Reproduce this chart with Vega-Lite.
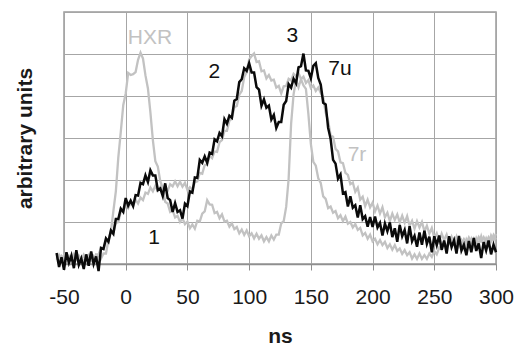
{
  "$schema": "https://vega.github.io/schema/vega-lite/v6.json",
  "width": 432,
  "height": 252,
  "autosize": {"type": "none"},
  "padding": {"left": 64, "top": 12, "right": 19, "bottom": 83},
  "background": "white",
  "config": {"view": {"stroke": "#9a9a9a", "strokeWidth": 1.5}, "font": "Liberation Sans"},
  "datasets": {
    "sig": [
      {"t":-56,"hxr":0.10,"r7":0.16,"u7":0.26},{"t":-54,"hxr":0.22,"r7":0.06,"u7":-0.07},{"t":-52,"hxr":0.12,"r7":0.18,"u7":0.16},{"t":-50,"hxr":0.21,"r7":0.04,"u7":-0.14},
      {"t":-48,"hxr":0.08,"r7":0.13,"u7":0.28},{"t":-46,"hxr":0.19,"r7":0.02,"u7":0.03},{"t":-44,"hxr":0.09,"r7":0.15,"u7":0.2},{"t":-42,"hxr":0.23,"r7":0.07,"u7":-0.1},
      {"t":-40,"hxr":0.11,"r7":0.17,"u7":0.33},{"t":-38,"hxr":0.2,"r7":0.05,"u7":-0.02},{"t":-36,"hxr":0.1,"r7":0.16,"u7":0.13},{"t":-34,"hxr":0.22,"r7":0.06,"u7":-0.12},
      {"t":-32,"hxr":0.12,"r7":0.18,"u7":0.23},{"t":-30,"hxr":0.21,"r7":0.04,"u7":-0.04},{"t":-28,"hxr":0.08,"r7":0.13,"u7":0.3},{"t":-26,"hxr":0.19,"r7":0.02,"u7":0.0},
      {"t":-24,"hxr":0.09,"r7":0.23,"u7":0.18},{"t":-22,"hxr":0.23,"r7":0.22,"u7":-0.17},{"t":-20,"hxr":0.13,"r7":0.39,"u7":0.38},{"t":-18,"hxr":0.25,"r7":0.35,"u7":0.36},
      {"t":-16,"hxr":0.25,"r7":0.56,"u7":0.61},{"t":-14,"hxr":0.57,"r7":0.56,"u7":0.53},{"t":-12,"hxr":0.77,"r7":0.78,"u7":0.8},{"t":-10,"hxr":1.26,"r7":0.76,"u7":0.72},
      {"t":-8,"hxr":1.73,"r7":0.98,"u7":1.07},{"t":-6,"hxr":2.54,"r7":1.0,"u7":1.07},{"t":-4,"hxr":3.14,"r7":1.25,"u7":1.32},{"t":-2,"hxr":3.78,"r7":1.25,"u7":1.24},
      {"t":0,"hxr":4.06,"r7":1.42,"u7":1.57},{"t":2,"hxr":4.55,"r7":1.33,"u7":1.39},{"t":4,"hxr":4.5,"r7":1.46,"u7":1.51},{"t":6,"hxr":4.52,"r7":1.38,"u7":1.38},
      {"t":8,"hxr":4.57,"r7":1.53,"u7":1.64},{"t":10,"hxr":4.86,"r7":1.44,"u7":1.63},{"t":12,"hxr":5.03,"r7":1.58,"u7":1.93},{"t":14,"hxr":4.89,"r7":1.52,"u7":1.9},
      {"t":16,"hxr":4.49,"r7":1.7,"u7":2.11},{"t":18,"hxr":4.18,"r7":1.67,"u7":1.95},{"t":20,"hxr":3.61,"r7":1.82,"u7":2.23},{"t":22,"hxr":2.95,"r7":1.73,"u7":2.11},
      {"t":24,"hxr":2.45,"r7":1.86,"u7":2.11},{"t":26,"hxr":2.32,"r7":1.74,"u7":1.76},{"t":28,"hxr":1.97,"r7":1.83,"u7":1.8},{"t":30,"hxr":1.81,"r7":1.71,"u7":1.62},
      {"t":32,"hxr":1.48,"r7":1.83,"u7":1.92},{"t":34,"hxr":1.44,"r7":1.74,"u7":1.57},{"t":36,"hxr":1.24,"r7":1.9,"u7":1.52},{"t":38,"hxr":1.28,"r7":1.85,"u7":1.24},
      {"t":40,"hxr":1.11,"r7":1.97,"u7":1.45},{"t":42,"hxr":1.15,"r7":1.85,"u7":1.24},{"t":44,"hxr":1.0,"r7":1.96,"u7":1.28},{"t":46,"hxr":1.09,"r7":1.84,"u7":1.08},
      {"t":48,"hxr":0.95,"r7":1.93,"u7":1.44},{"t":50,"hxr":1.01,"r7":1.76,"u7":1.38},{"t":52,"hxr":0.85,"r7":1.83,"u7":1.73},{"t":54,"hxr":0.94,"r7":1.77,"u7":1.7},
      {"t":56,"hxr":0.84,"r7":1.95,"u7":2.06},{"t":58,"hxr":1.03,"r7":1.97,"u7":2.05},{"t":60,"hxr":1.01,"r7":2.17,"u7":2.48},{"t":62,"hxr":1.2,"r7":2.15,"u7":2.41},
      {"t":64,"hxr":1.25,"r7":2.36,"u7":2.56},{"t":66,"hxr":1.52,"r7":2.36,"u7":2.41},{"t":68,"hxr":1.42,"r7":2.58,"u7":2.65},{"t":70,"hxr":1.41,"r7":2.52,"u7":2.62},
      {"t":72,"hxr":1.21,"r7":2.68,"u7":2.97},{"t":74,"hxr":1.24,"r7":2.67,"u7":2.92},{"t":76,"hxr":1.09,"r7":2.9,"u7":3.12},{"t":78,"hxr":1.18,"r7":2.95,"u7":3.04},
      {"t":80,"hxr":1.01,"r7":3.17,"u7":3.45},{"t":82,"hxr":1.03,"r7":3.17,"u7":3.34},{"t":84,"hxr":0.89,"r7":3.41,"u7":3.53},{"t":86,"hxr":0.97,"r7":3.46,"u7":3.48},
      {"t":88,"hxr":0.83,"r7":3.73,"u7":3.89},{"t":90,"hxr":0.88,"r7":3.76,"u7":3.93},{"t":92,"hxr":0.73,"r7":4.03,"u7":4.33},{"t":94,"hxr":0.82,"r7":4.12,"u7":4.4},
      {"t":96,"hxr":0.69,"r7":4.45,"u7":4.66},{"t":98,"hxr":0.8,"r7":4.57,"u7":4.6},{"t":100,"hxr":0.66,"r7":4.87,"u7":4.78},{"t":102,"hxr":0.73,"r7":4.95,"u7":4.56},
      {"t":104,"hxr":0.61,"r7":5.01,"u7":4.56},{"t":106,"hxr":0.72,"r7":4.81,"u7":4.21},{"t":108,"hxr":0.6,"r7":4.83,"u7":4.15},{"t":110,"hxr":0.68,"r7":4.59,"u7":3.77},
      {"t":112,"hxr":0.54,"r7":4.61,"u7":3.92},{"t":114,"hxr":0.64,"r7":4.42,"u7":3.72},{"t":116,"hxr":0.54,"r7":4.5,"u7":3.77},{"t":118,"hxr":0.68,"r7":4.37,"u7":3.44},
      {"t":120,"hxr":0.58,"r7":4.39,"u7":3.55},{"t":122,"hxr":0.7,"r7":4.2,"u7":3.24},{"t":124,"hxr":0.7,"r7":4.24,"u7":3.38},{"t":126,"hxr":0.97,"r7":4.06,"u7":3.38},
      {"t":128,"hxr":1.02,"r7":4.23,"u7":3.79},{"t":130,"hxr":1.36,"r7":4.24,"u7":3.88},{"t":132,"hxr":2.03,"r7":4.41,"u7":4.28},{"t":134,"hxr":3.34,"r7":4.37,"u7":4.2},
      {"t":136,"hxr":4.04,"r7":4.53,"u7":4.41},{"t":138,"hxr":4.38,"r7":4.47,"u7":4.3},{"t":140,"hxr":4.21,"r7":4.55,"u7":4.68},{"t":142,"hxr":4.4,"r7":4.4,"u7":4.71},
      {"t":144,"hxr":4.25,"r7":4.46,"u7":5.01},{"t":146,"hxr":4.17,"r7":4.31,"u7":4.61},{"t":148,"hxr":3.57,"r7":4.38,"u7":4.6},{"t":150,"hxr":2.86,"r7":4.19,"u7":4.42},
      {"t":152,"hxr":2.43,"r7":4.25,"u7":4.72},{"t":154,"hxr":2.34,"r7":4.12,"u7":4.78},{"t":156,"hxr":2.04,"r7":4.2,"u7":4.43},{"t":158,"hxr":1.93,"r7":4.07,"u7":4.27},
      {"t":160,"hxr":1.61,"r7":3.97,"u7":3.84},{"t":162,"hxr":1.55,"r7":3.6,"u7":3.8},{"t":164,"hxr":1.33,"r7":3.41,"u7":3.24},{"t":166,"hxr":1.37,"r7":3.06,"u7":2.98},
      {"t":168,"hxr":1.22,"r7":3.03,"u7":2.48},{"t":170,"hxr":1.26,"r7":2.74,"u7":2.39},{"t":172,"hxr":1.09,"r7":2.68,"u7":2.03},{"t":174,"hxr":1.16,"r7":2.42,"u7":2.13},
      {"t":176,"hxr":1.02,"r7":2.4,"u7":1.68},{"t":178,"hxr":1.13,"r7":2.17,"u7":1.71},{"t":180,"hxr":0.96,"r7":2.12,"u7":1.37},{"t":182,"hxr":1.0,"r7":1.9,"u7":1.61},
      {"t":184,"hxr":0.87,"r7":1.94,"u7":1.34},{"t":186,"hxr":0.95,"r7":1.72,"u7":1.4},{"t":188,"hxr":0.81,"r7":1.82,"u7":1.11},{"t":190,"hxr":0.86,"r7":1.53,"u7":1.4},
      {"t":192,"hxr":0.68,"r7":1.6,"u7":1.07},{"t":194,"hxr":0.74,"r7":1.38,"u7":1.14},{"t":196,"hxr":0.6,"r7":1.53,"u7":0.89},{"t":198,"hxr":0.7,"r7":1.35,"u7":1.12},
      {"t":200,"hxr":0.54,"r7":1.46,"u7":0.88},{"t":202,"hxr":0.6,"r7":1.25,"u7":1.13},{"t":204,"hxr":0.47,"r7":1.39,"u7":0.87},{"t":206,"hxr":0.57,"r7":1.2,"u7":0.98},
      {"t":208,"hxr":0.45,"r7":1.35,"u7":0.68},{"t":210,"hxr":0.53,"r7":1.11,"u7":0.96},{"t":212,"hxr":0.38,"r7":1.22,"u7":0.78},{"t":214,"hxr":0.47,"r7":1.02,"u7":0.99},
      {"t":216,"hxr":0.34,"r7":1.2,"u7":0.64},{"t":218,"hxr":0.45,"r7":1.05,"u7":0.85},{"t":220,"hxr":0.31,"r7":1.18,"u7":0.53},{"t":222,"hxr":0.37,"r7":0.99,"u7":0.93},
      {"t":224,"hxr":0.24,"r7":1.15,"u7":0.66},{"t":226,"hxr":0.33,"r7":0.98,"u7":0.81},{"t":228,"hxr":0.21,"r7":1.14,"u7":0.49},{"t":230,"hxr":0.28,"r7":0.91,"u7":0.9},
      {"t":232,"hxr":0.13,"r7":1.03,"u7":0.54},{"t":234,"hxr":0.23,"r7":0.84,"u7":0.67},{"t":236,"hxr":0.12,"r7":1.02,"u7":0.41},{"t":238,"hxr":0.25,"r7":0.87,"u7":0.75},
      {"t":240,"hxr":0.12,"r7":1.0,"u7":0.46},{"t":242,"hxr":0.21,"r7":0.78,"u7":0.79},{"t":244,"hxr":0.12,"r7":0.91,"u7":0.48},{"t":246,"hxr":0.25,"r7":0.72,"u7":0.65},
      {"t":248,"hxr":0.17,"r7":0.86,"u7":0.28},{"t":250,"hxr":0.31,"r7":0.61,"u7":0.66},{"t":252,"hxr":0.23,"r7":0.73,"u7":0.45},{"t":254,"hxr":0.39,"r7":0.54,"u7":0.68},
      {"t":256,"hxr":0.34,"r7":0.72,"u7":0.34},{"t":258,"hxr":0.51,"r7":0.57,"u7":0.56},{"t":260,"hxr":0.41,"r7":0.7,"u7":0.25},{"t":262,"hxr":0.53,"r7":0.5,"u7":0.66},
      {"t":264,"hxr":0.45,"r7":0.65,"u7":0.4},{"t":266,"hxr":0.59,"r7":0.49,"u7":0.56},{"t":268,"hxr":0.51,"r7":0.65,"u7":0.25},{"t":270,"hxr":0.61,"r7":0.43,"u7":0.67},
      {"t":272,"hxr":0.48,"r7":0.56,"u7":0.32},{"t":274,"hxr":0.59,"r7":0.38,"u7":0.46},{"t":276,"hxr":0.49,"r7":0.58,"u7":0.21},{"t":278,"hxr":0.63,"r7":0.45,"u7":0.55},
      {"t":280,"hxr":0.51,"r7":0.6,"u7":0.28},{"t":282,"hxr":0.61,"r7":0.43,"u7":0.62},{"t":284,"hxr":0.51,"r7":0.61,"u7":0.31},{"t":286,"hxr":0.64,"r7":0.47,"u7":0.49},
      {"t":288,"hxr":0.54,"r7":0.66,"u7":0.14},{"t":290,"hxr":0.64,"r7":0.46,"u7":0.52},{"t":292,"hxr":0.52,"r7":0.61,"u7":0.32},{"t":294,"hxr":0.64,"r7":0.46,"u7":0.56},
      {"t":296,"hxr":0.54,"r7":0.68,"u7":0.23},{"t":298,"hxr":0.69,"r7":0.56,"u7":0.46},{"t":300,"hxr":0.58,"r7":0.72,"u7":0.28}
    ],
    "labels": [
      {"label":"HXR","curve":"HXR","t":19.7,"y":5.37},
      {"label":"1","curve":"7u","t":22.9,"y":0.63},
      {"label":"2","curve":"7u","t":71.9,"y":4.56},
      {"label":"3","curve":"7u","t":135.1,"y":5.42},
      {"label":"7u","curve":"7u","t":173.6,"y":4.64},
      {"label":"7r","curve":"7r","t":187.4,"y":2.6}
    ]
  },
  "layer": [
    {
      "data": {"name": "sig"},
      "transform": [{"fold": ["hxr", "r7"], "as": ["series", "v"]}],
      "mark": {"type": "line", "clip": false, "strokeWidth": 2.3, "color": "#c2c2c2", "strokeJoin": "miter"},
      "encoding": {
        "x": {
          "field": "t", "type": "quantitative",
          "scale": {"domain": [-50, 300], "nice": false, "zero": false},
          "axis": {
            "values": [-50, 0, 50, 100, 150, 200, 250, 300],
            "labelExpr": "datum.value + ''",
            "grid": true, "gridColor": "#a6a6a6", "gridWidth": 1,
            "domain": true, "domainColor": "#8f8f8f", "domainWidth": 1.5,
            "ticks": true, "tickColor": "#8f8f8f", "tickSize": 6, "tickWidth": 1,
            "labelFont": "Liberation Sans", "labelFontSize": 21, "labelColor": "#1a1a1a", "labelPadding": 16,
            "labelFlush": false,
            "title": "ns", "titleFont": "Liberation Sans", "titleFontSize": 21, "titleFontWeight": "bold", "titleColor": "#1a1a1a", "titlePadding": 18
          }
        },
        "y": {
          "field": "v", "type": "quantitative",
          "scale": {"domain": [0, 6], "nice": false, "zero": false},
          "axis": {
            "values": [0, 1, 2, 3, 4, 5, 6],
            "grid": true, "gridColor": "#a6a6a6", "gridWidth": 1,
            "domain": false, "ticks": false, "labels": false,
            "title": "arbitrary units", "titleFont": "Liberation Sans", "titleFontSize": 21, "titleFontWeight": "bold", "titleColor": "#1a1a1a", "titlePadding": 29
          }
        },
        "detail": {"field": "series"}
      }
    },
    {
      "data": {"name": "sig"},
      "mark": {"type": "line", "clip": false, "strokeWidth": 2.5, "color": "#0a0a0a", "strokeJoin": "miter"},
      "encoding": {
        "x": {"field": "t", "type": "quantitative"},
        "y": {"field": "u7", "type": "quantitative"}
      }
    },
    {
      "data": {"name": "labels"},
      "mark": {"type": "text", "font": "Liberation Sans", "fontSize": 21, "align": "center", "baseline": "middle"},
      "encoding": {
        "x": {"field": "t", "type": "quantitative"},
        "y": {"field": "y", "type": "quantitative"},
        "text": {"field": "label"},
        "color": {"field": "curve", "type": "nominal", "scale": {"domain": ["HXR", "7r", "7u"], "range": ["#c2c2c2", "#c2c2c2", "#111111"]}, "legend": null}
      }
    }
  ]
}
